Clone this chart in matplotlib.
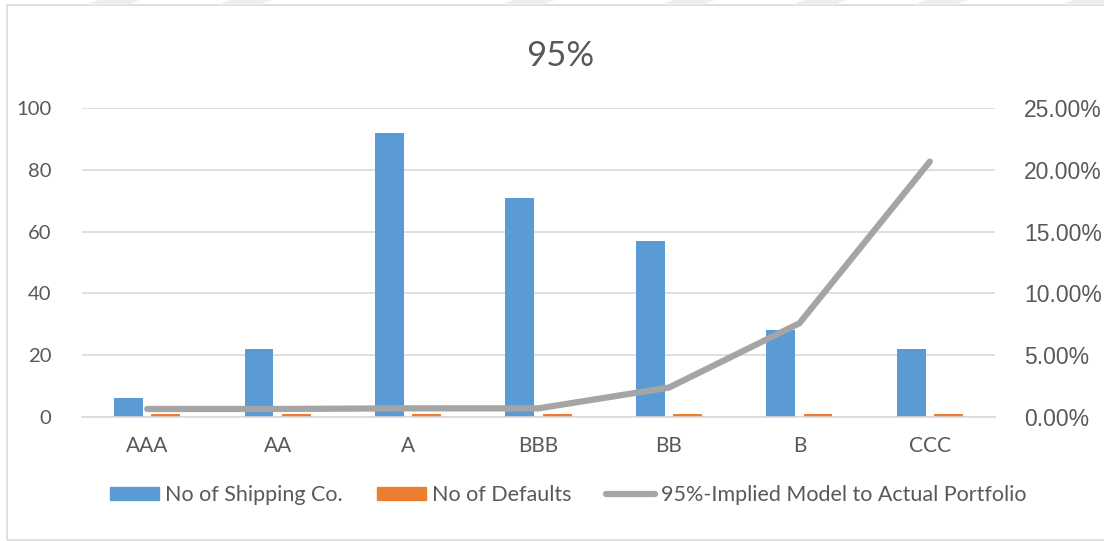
import matplotlib.pyplot as plt
import matplotlib.patches as mpatches
from matplotlib.lines import Line2D
from matplotlib.ticker import FuncFormatter
import numpy as np

ratings = ['AAA', 'AA', 'A', 'BBB', 'BB', 'B', 'CCC']
shipping_cos = [6, 22, 92, 71, 57, 28, 22]
defaults = [1, 1, 1, 1, 1, 1, 1]
implied_pd = [0.0065, 0.0065, 0.0070, 0.0070, 0.0238, 0.0758, 0.2066]

blue = '#5b9bd5'
orange = '#ed7d31'
grey = '#a5a5a5'
text_col = '#595959'

fig = plt.figure(figsize=(11.04, 5.41), dpi=100)

# chart frame and faint stripes along the top edge
fig.add_artist(mpatches.Rectangle((7 / 1104, 1 - 540 / 541), 1.2, 535 / 541,
                                  transform=fig.transFigure, fill=False,
                                  edgecolor='#d9d9d9', linewidth=1.2))
for x0 in [85, 217, 500, 660, 792, 913, 1060]:
    xs = np.array([x0, x0 + 42, x0 + 55, x0 + 13]) / 1104
    ys = 1 - np.array([5, 5, 0, 0]) / 541
    fig.add_artist(mpatches.Polygon(np.column_stack([xs, ys]), closed=True,
                                    transform=fig.transFigure,
                                    facecolor='#eeeeee', edgecolor='none'))

ax = fig.add_axes([82 / 1104, 1 - 417 / 541, (995 - 82) / 1104, (417 - 108) / 541])
ax2 = ax.twinx()

x = np.arange(len(ratings))
w = 0.222
ax.bar(x - 0.143, shipping_cos, w, color=blue, zorder=2)
ax.bar(x + 0.143, defaults, w, color=orange, zorder=2)
ax2.plot(x, implied_pd, color=grey, linewidth=4.5, solid_capstyle='round',
         solid_joinstyle='round', zorder=3)

ax.set_xlim(-0.5, len(ratings) - 0.5)
ax.set_ylim(0, 100)
ax.set_yticks(range(0, 101, 20))
ax2.set_ylim(0, 0.25)
ax2.set_yticks(np.arange(0, 0.2501, 0.05))
ax2.yaxis.set_major_formatter(FuncFormatter(lambda v, p: f'{v * 100:.2f}%'))

ax.set_xticks(x)
ax.set_xticklabels(ratings, fontfamily='Lato', fontsize=15, color=text_col)
ax.tick_params(axis='x', length=0, pad=14)
ax.tick_params(axis='y', length=0, pad=22, labelsize=14.6, labelcolor=text_col)
for lab in ax.get_yticklabels():
    lab.set_fontfamily('Lato')
ax2.tick_params(axis='y', length=0, pad=21, labelsize=16.5, labelcolor=text_col)
for lab in ax2.get_yticklabels():
    lab.set_fontfamily('Liberation Sans')

ax.grid(axis='y', color='#d9d9d9', linewidth=1.2, zorder=0)
ax.set_axisbelow(True)
for a in (ax, ax2):
    for s in a.spines.values():
        s.set_visible(False)
ax.spines['bottom'].set_visible(True)
ax.spines['bottom'].set_color('#d9d9d9')
ax.spines['bottom'].set_linewidth(1.2)
ax.set_zorder(ax2.get_zorder() - 1)
ax.patch.set_visible(False)
ax2.set_zorder(1)

fig.text(560 / 1104, 1 - 56 / 541, '95%', ha='center', va='center',
         fontfamily='Lato', fontsize=25, color=text_col)

handles = [mpatches.Patch(color=blue),
           mpatches.Patch(color=orange),
           Line2D([0], [0], color=grey, linewidth=4.5, solid_capstyle='round')]
labels = ['No of Shipping Co.', 'No of Defaults', '95%-Implied Model to Actual Portfolio']
fig.legend(handles, labels, loc='center', bbox_to_anchor=(568 / 1104, 1 - 495 / 541),
           ncol=3, frameon=False, handlelength=2.3, handleheight=0.6,
           handletextpad=0.25, columnspacing=1.6,
           prop={'family': 'Lato', 'size': 15.5}, labelcolor=text_col)

fig.savefig('out.png', dpi=100)
